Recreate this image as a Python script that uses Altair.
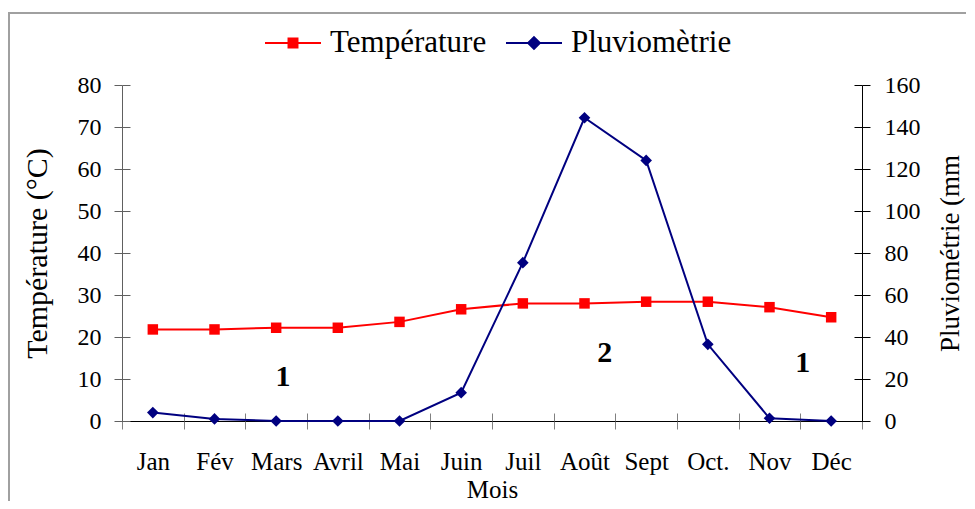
import altair as alt
import pandas as pd

# ---- data ----
months = ["Jan", "Fév", "Mars", "Avril", "Mai", "Juin", "Juil", "Août", "Sept", "Oct.", "Nov", "Déc"]
temperature = [21.8, 21.8, 22.2, 22.2, 23.6, 26.6, 28.0, 28.0, 28.4, 28.4, 27.1, 24.7]
rainfall = [4.0, 1.0, 0.0, 0.0, 0.0, 13.5, 75.4, 144.4, 124.1, 36.5, 1.3, 0.0]
temp_ticks = [0, 10, 20, 30, 40, 50, 60, 70, 80]
rain_ticks = [0, 20, 40, 60, 80, 100, 120, 140, 160]
series = ["Température", "Pluviomètrie"]
series_colors = ["#ff0000", "#000080"]
legend_shapes = [
    "M-1,0H1M-0.16,-0.16H0.16V0.16H-0.16Z",
    "M-1,0H1M0,-0.21L0.21,0L0,0.21L-0.21,0Z",
]
zone_labels = ["1", "2", "1"]
zone_pos = [2.61, 7.83, 11.04]   # position in month units (0 = left edge of Jan)
zone_val = [10.5, 16.2, 13.8]    # height in °C units

df = pd.DataFrame({"Mois": months, "idx": list(range(len(months))),
                   "Temp": temperature, "Pluie": rainfall})
ann = pd.DataFrame({"label": zone_labels, "pos": zone_pos, "val": zone_val})

FONT = "Liberation Serif"
xs_point = alt.Scale(type="point", domain=months, padding=0.5)
xs_band = alt.Scale(type="band", domain=months, paddingInner=0, paddingOuter=0)
ys_t = alt.Scale(domain=[0, 80], nice=False, zero=True)
ys_r = alt.Scale(domain=[0, 160], nice=False, zero=True)

base = alt.Chart(df)
empty = alt.Chart(df).transform_filter("false")

# decorative outer frame
frame = alt.Chart(pd.DataFrame({"k": [0]})).mark_rect(
    fill="transparent", stroke="#a0a0a0", strokeWidth=2
).encode(x=alt.value(-113), x2=alt.value(1100), y=alt.value(-72), y2=alt.value(700))

# temperature
t_enc = dict(
    x=alt.X("Mois:N", scale=xs_point, axis=None),
    y=alt.Y("Temp:Q", scale=ys_t, axis=None),
    order=alt.Order("idx:Q"),
)
temp = alt.layer(
    base.mark_line(color="#ff0000", strokeWidth=2).encode(**t_enc),
    base.mark_point(shape="square", filled=True, size=110, color="#ff0000", opacity=1).encode(**t_enc),
)

# rainfall
r_enc = dict(
    x=alt.X("Mois:N", scale=xs_point, axis=None),
    y=alt.Y("Pluie:Q", scale=ys_r, axis=None),
    order=alt.Order("idx:Q"),
)
rain = alt.layer(
    base.mark_line(color="#000080", strokeWidth=2).encode(**r_enc),
    base.mark_point(shape="diamond", filled=True, size=135, color="#000080", opacity=1).encode(**r_enc),
)

# zone annotations
zones = alt.Chart(ann).mark_text(
    font=FONT, fontSize=30, fontWeight="bold", color="black", align="center", baseline="middle"
).encode(
    x=alt.X("pos:Q", scale=alt.Scale(domain=[0, 12], nice=False, zero=False), axis=None),
    y=alt.Y("val:Q", scale=ys_t, axis=None),
    text="label:N",
)

# main left + bottom axes
axis_main = empty.mark_point(opacity=0).encode(
    x=alt.X("Mois:N", scale=xs_band, axis=alt.Axis(
        orient="bottom", tickBand="extent", labelAngle=0, tickSize=8, tickColor="#808080",
        domainColor="#000000", labelFontSize=25, labelPadding=20, labelColor="black",
        title="Mois", titleFontSize=25, titleBaseline="alphabetic", titleY=76,
        titleFontWeight="normal")),
    y=alt.Y("Temp:Q", scale=ys_t, axis=alt.Axis(
        orient="left", values=temp_ticks, tickSize=8, tickColor="#606060",
        domainColor="#606060", labelFontSize=24, labelPadding=13, labelColor="black",
        title="Température (°C)", titleFontSize=30, titlePadding=25, titleFontWeight="normal")),
)
# inner half of the crossing ticks
axis_inner = empty.mark_point(opacity=0).encode(
    x=alt.X("Mois:N", scale=xs_band, axis=alt.Axis(
        orient="bottom", offset=-8, tickBand="extent", tickSize=8, tickColor="#808080",
        labels=False, domain=False, title=None)),
    y=alt.Y("Temp:Q", scale=ys_t, axis=alt.Axis(
        orient="left", offset=-8, values=temp_ticks, tickSize=8, tickColor="#606060",
        labels=False, domain=False, title=None)),
)
axis_right = empty.mark_point(opacity=0).encode(
    y=alt.Y("Pluie:Q", scale=ys_r, axis=alt.Axis(
        orient="right", values=rain_ticks, tickSize=8, tickColor="#000000",
        domainColor="#000000", labelFontSize=24, labelPadding=14, labelColor="black",
        title="Pluviométrie (mm", titleFontSize=27, titlePadding=17, titleAngle=270,
        titleBaseline="top", titleFontWeight="normal")),
)
axis_right_inner = empty.mark_point(opacity=0).encode(
    y=alt.Y("Pluie:Q", scale=ys_r, axis=alt.Axis(
        orient="right", offset=-8, values=rain_ticks, tickSize=8, tickColor="#000000",
        labels=False, domain=False, title=None)),
)

# legend
leg = alt.Legend(
    orient="none", legendX=142, legendY=-71, direction="horizontal", title=None,
    labelFont=FONT, labelFontSize=31, labelColor="black", labelOffset=8, labelLimit=400,
    symbolSize=3136, symbolStrokeWidth=2, columnPadding=15, padding=0,
)
legend_layer = empty.mark_point(filled=True, opacity=1).encode(
    fill=alt.Fill("serie:N", scale=alt.Scale(domain=series, range=series_colors), legend=leg),
    stroke=alt.Stroke("serie:N", scale=alt.Scale(domain=series, range=series_colors), legend=leg),
    shape=alt.Shape("serie:N", scale=alt.Scale(domain=series, range=legend_shapes), legend=leg),
)

chart = alt.layer(
    frame, temp, rain, zones, axis_main, axis_inner, axis_right, axis_right_inner, legend_layer
).resolve_scale(
    x="independent", y="independent"
).properties(
    width=740, height=336,
    autosize=alt.AutoSizeParams(type="none"),
    padding={"left": 114, "top": 77, "right": 104, "bottom": 80},
    background="white",
).configure_view(
    stroke="transparent"
).configure_axis(
    labelFont=FONT, titleFont=FONT, grid=False, titleColor="black"
)

chart.save("out.html", embed_options={"renderer": "svg", "actions": False})
